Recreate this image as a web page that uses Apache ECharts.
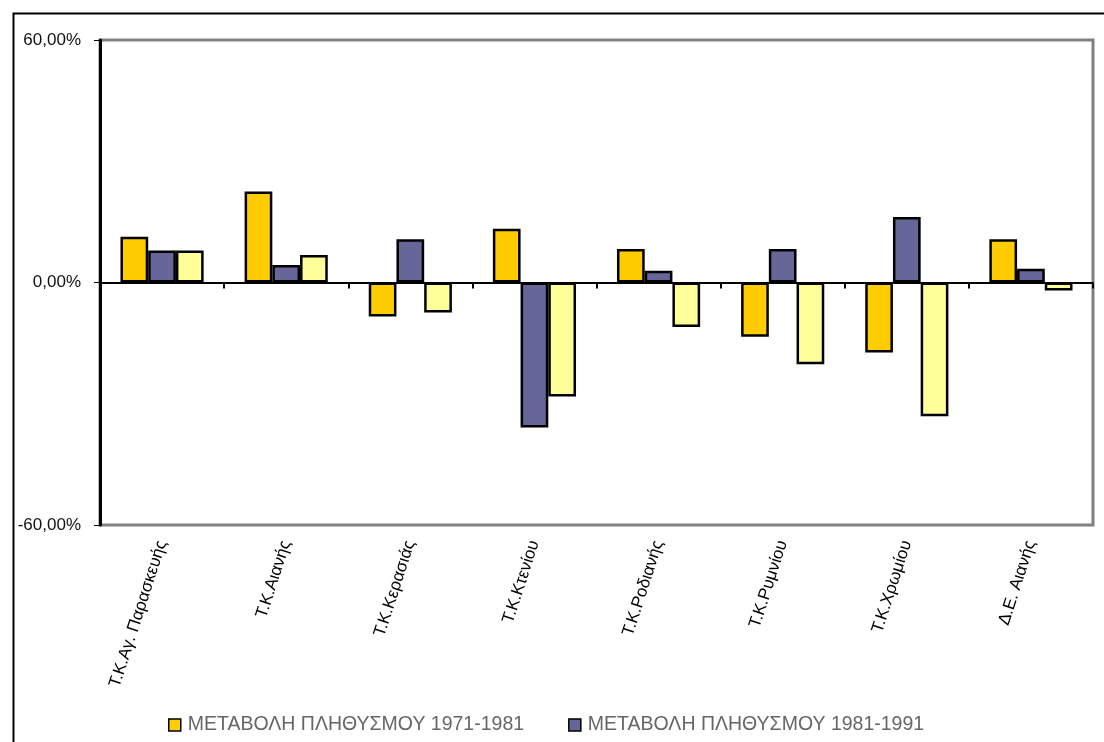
<!DOCTYPE html>
<html>
<head>
<meta charset="utf-8">
<script src="https://cdn.jsdelivr.net/npm/echarts@6/dist/echarts.min.js"></script>
<style>
html,body{margin:0;padding:0;background:#fff;}
#chart{width:1104px;height:742px;}
</style>
</head>
<body>
<div id="chart"></div>
<script>
const categories = ["Τ.Κ.Αγ. Παρασκευής","Τ.Κ.Αιανής","Τ.Κ.Κερασιάς","Τ.Κ.Κτενίου","Τ.Κ.Ροδιανής","Τ.Κ.Ρυμνίου","Τ.Κ.Χρωμίου","Δ.Ε. Αιανής"];
const seriesNames = ["ΜΕΤΑΒΟΛΗ ΠΛΗΘΥΣΜΟΥ 1971-1981","ΜΕΤΑΒΟΛΗ ΠΛΗΘΥΣΜΟΥ 1981-1991","ΜΕΤΑΒΟΛΗ ΠΛΗΘΥΣΜΟΥ 1971-1991"];
const change7181 = [11.3, 22.5, -8.4, 13.3, 8.3, -13.4, -17.3, 10.7];
const change8191 = [7.9, 4.3, 10.7, -35.9, 2.9, 8.3, 16.2, 3.4];
const change7191 = [7.9, 6.8, -7.4, -28.2, -11.0, -20.2, -33.1, -2.0];
const yTicks = [-60, 0, 60];
const colors = ["#FFCC00","#666699","#FFFF99"];

const chart = echarts.init(document.getElementById('chart'));
const fmt = v => v.toFixed(2).replace('.', ',') + '%';
const barStyle = c => ({color: c, borderColor: '#000', borderWidth: 2.5});
chart.setOption({
  animation: false,
  textStyle: {fontFamily: 'Liberation Sans, Arial, sans-serif'},
  graphic: [{
    type: 'rect', left: 11, top: 11,
    shape: {width: 1200, height: 800},
    style: {fill: 'none', stroke: '#000', lineWidth: 2}
  }],
  grid: {left: 100, right: 11, top: 40, bottom: 217, show: true, borderColor: '#808080', borderWidth: 3, backgroundColor: 'transparent'},
  legend: {
    data: seriesNames.slice(0, 2),
    top: 710, left: 163,
    itemWidth: 12, itemHeight: 12, itemGap: 44,
    icon: 'rect',
    itemStyle: {borderColor: '#000', borderWidth: 1.5},
    textStyle: {color: '#666', fontSize: 19.5, padding: [0,0,0,2]}
  },
  xAxis: [{
    type: 'category', data: categories, position: 'bottom',
    axisLine: {onZero: false, show: false},
    axisTick: {show: false},
    axisLabel: {rotate: 72, interval: 0, color: '#000', fontSize: 17, margin: 16}
  }, {
    type: 'category', data: categories, position: 'bottom',
    axisLine: {onZero: true, lineStyle: {color: '#000', width: 2}},
    axisTick: {show: true, interval: 0, length: 6, lineStyle: {color: '#000', width: 2}},
    axisLabel: {show: false}
  }],
  yAxis: {
    type: 'value', min: -60, max: 60, interval: 60,
    axisLine: {show: true, lineStyle: {color: '#000', width: 3}},
    axisTick: {show: true, length: 6, lineStyle: {color: '#000'}},
    splitLine: {show: false},
    axisLabel: {formatter: v => yTicks.includes(v) ? fmt(v) : '', color: '#111', fontSize: 17, margin: 19}
  },
  series: [
    {name: seriesNames[0], type: 'bar', data: change7181, itemStyle: barStyle(colors[0]), barGap: '0%', barCategoryGap: '33%'},
    {name: seriesNames[1], type: 'bar', data: change8191, itemStyle: barStyle(colors[1]), barGap: '0%', barCategoryGap: '33%'},
    {name: seriesNames[2], type: 'bar', data: change7191, itemStyle: barStyle(colors[2]), barGap: '0%', barCategoryGap: '33%'}
  ]
});
</script>
</body>
</html>
